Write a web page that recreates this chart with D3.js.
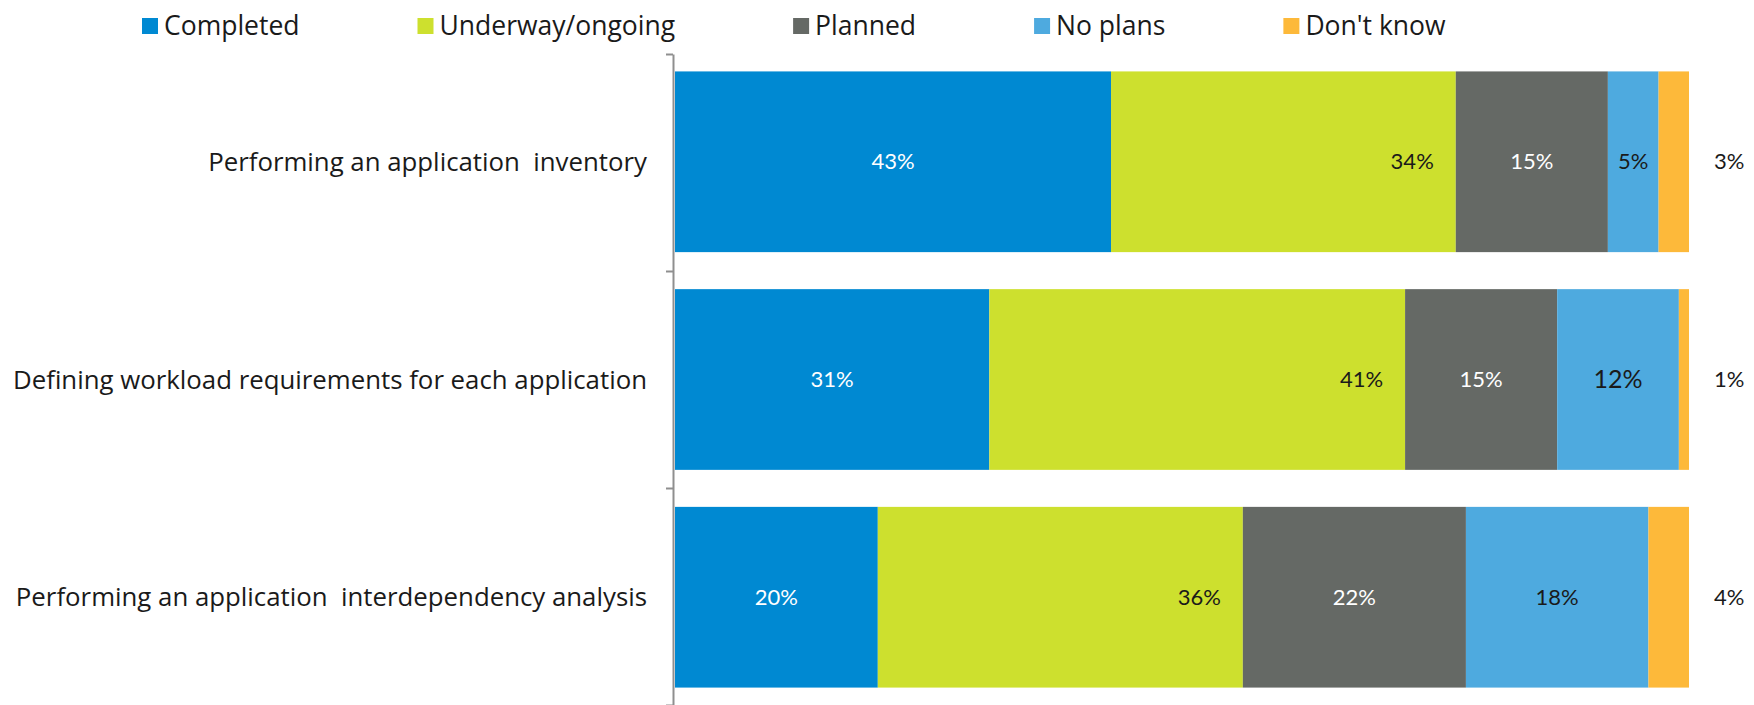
<!DOCTYPE html>
<html>
<head>
<meta charset="utf-8">
<script src="https://cdn.jsdelivr.net/npm/d3@7"></script>
<style>
  html, body { margin: 0; padding: 0; background: #fff; }
  svg { display: block; }
</style>
</head>
<body>
<div id="chart"></div>
<script>
const categories = [
  "Performing an application  inventory",
  "Defining workload requirements for each application",
  "Performing an application  interdependency analysis"
];
const seriesNames = ["Completed", "Underway/ongoing", "Planned", "No plans", "Don't know"];
const completed = [43, 31, 20];
const underway  = [34, 41, 36];
const planned   = [15, 15, 22];
const noPlans   = [5, 12, 18];
const dontKnow  = [3, 1, 4];
const seriesValues = [completed, underway, planned, noPlans, dontKnow];
const colors = ["#0089D2", "#CDE02E", "#656965", "#4EAADF", "#FDB93A"];
const labelColors = ["#ffffff", "#1a1a1a", "#ffffff", "#1a1a1a", "#1a1a1a"];

const W = 1754, H = 705;
const svg = d3.select("#chart").append("svg").attr("width", W).attr("height", H);

const x = d3.scaleLinear().domain([0, 100]).range([675, 1689]);
const y = d3.scaleBand().domain(categories).range([54, 705]).paddingInner(0.17).paddingOuter(0.08);
const yEdge = d3.scaleLinear().domain([0, categories.length]).range([54, 705]);

// stacked data
const rows = categories.map((c, i) => {
  const o = { cat: c };
  seriesNames.forEach((s, j) => o[s] = seriesValues[j][i]);
  return o;
});
const stack = d3.stack().keys(seriesNames)(rows);

// bars
const g = svg.append("g");
stack.forEach((layer, j) => {
  g.selectAll(null).data(layer).enter().append("rect")
    .attr("x", d => x(d[0]))
    .attr("y", d => y(d.data.cat))
    .attr("width", d => x(d[1]) - x(d[0]))
    .attr("height", y.bandwidth())
    .attr("fill", colors[j]);
});

// value labels
stack.forEach((layer, j) => {
  g.selectAll(null).data(layer).enter().append("text")
    .attr("x", d => {
      if (j === 1) return x(d[1]) - 22;
      if (j === 4) return x(d[1]) + 25;
      return (x(d[0]) + x(d[1])) / 2;
    })
    .attr("y", d => y(d.data.cat) + y.bandwidth() / 2)
    .attr("dy", "0.35em")
    .attr("text-anchor", j === 1 ? "end" : (j === 4 ? "start" : "middle"))
    .attr("font-family", "Lato, 'Open Sans', sans-serif")
    .attr("font-size", d => (j === 3 && d.data[seriesNames[3]] === 12) ? 25 : 22)
    .attr("fill", labelColors[j])
    .text(d => (d[1] - d[0]) + "%");
});

// axis with ticks at band edges
const axis = d3.axisLeft(yEdge).tickValues(d3.range(categories.length + 1)).tickFormat("").tickSize(7).tickSizeOuter(0);
const axG = svg.append("g").attr("transform", "translate(673,0)").call(axis);
axG.selectAll("path, line").attr("stroke", "#8f8f8f").attr("stroke-width", 2);

// category labels
svg.append("g").selectAll("text").data(categories).enter().append("text")
  .attr("x", 647)
  .attr("y", d => y(d) + y.bandwidth() / 2)
  .attr("dy", "0.35em")
  .attr("text-anchor", "end")
  .attr("font-family", "'Open Sans', sans-serif")
  .attr("font-size", 25.8)
  .attr("fill", "#1a1a1a")
  .style("white-space", "pre")
  .attr("xml:space", "preserve")
  .text(d => d);

// legend
const leg = svg.append("g");
let lx = 142;
seriesNames.forEach((s, j) => {
  leg.append("rect").attr("x", lx).attr("y", 18).attr("width", 16).attr("height", 16).attr("fill", colors[j]);
  const t = leg.append("text").attr("x", lx + 22).attr("y", 26).attr("dy", "0.35em")
    .attr("font-family", "'Open Sans', sans-serif").attr("font-size", 26.5).attr("fill", "#1a1a1a").text(s);
  lx += 22 + t.node().getComputedTextLength() + 118;
});
</script>
</body>
</html>
